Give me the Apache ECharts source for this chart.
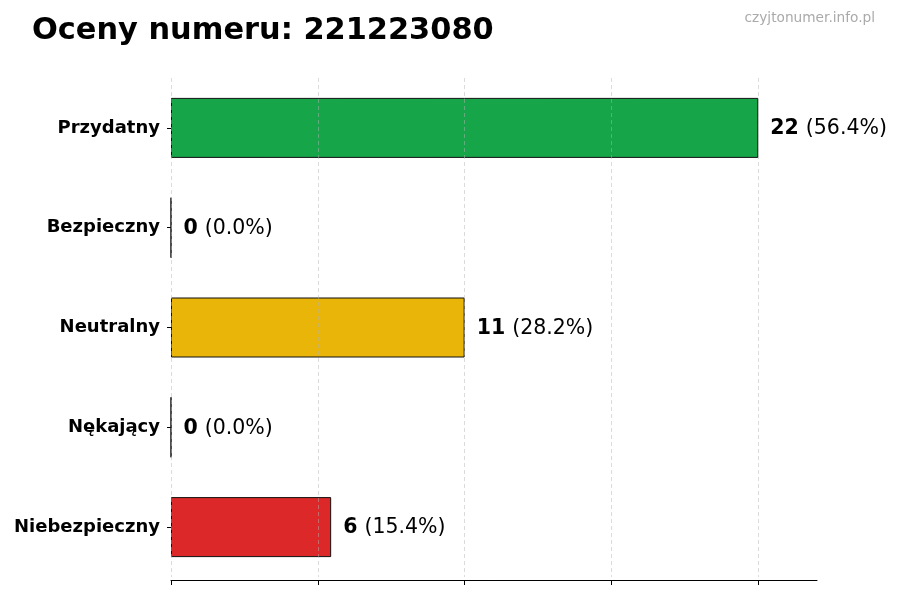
<!DOCTYPE html>
<html>
<head>
<meta charset="utf-8">
<script src="https://cdn.jsdelivr.net/npm/echarts@6/dist/echarts.min.js"></script>
<style>html,body{margin:0;padding:0;background:#fff}#c{width:900px;height:600px}</style>
</head>
<body>
<div id="c"></div>
<script>
const categories = ['Przydatny', 'Bezpieczny', 'Neutralny', 'Nękający', 'Niebezpieczny'];
const values = [22, 0, 11, 0, 6];
const barColors = ['#17a54a', '#17a54a', '#e9b509', '#e9b509', '#dc2828'];
const xTicks = [0, 5.5, 11, 16.5, 22];
const titleText = 'Oceny numeru: 221223080';
const watermark = 'czyjtonumer.info.pl';

const total = values.reduce((a, b) => a + b, 0);
const FONT = 'DejaVu Sans';
const grid = 'rgba(180,180,180,0.6)';
const chart = echarts.init(document.getElementById('c'));
chart.setOption({
  animation: false,
  textStyle: { fontFamily: FONT },
  title: [
    { text: titleText, left: 27, top: 11, textStyle: { fontFamily: FONT, fontSize: 30.4, fontWeight: 'bold', color: '#000' } },
    { text: watermark, right: 20, top: 6, textStyle: { fontFamily: FONT, fontSize: 13.7, fontWeight: 'normal', color: '#aaaaaa' } }
  ],
  grid: { left: 171, right: 83, top: 78, bottom: 23, containLabel: false },
  xAxis: {
    type: 'value', min: 0, max: 24.2, interval: 5.5, z: 10, offset: 3,
    axisLabel: { show: false },
    axisLine: { show: true, lineStyle: { color: '#000', width: 1 } },
    axisTick: { show: true, customValues: xTicks, length: 5, lineStyle: { color: '#000' } },
    splitLine: { show: true, lineStyle: { type: [4, 3], width: 0.8, color: [grid, grid, grid, grid, grid, 'rgba(0,0,0,0)'] } }
  },
  yAxis: {
    type: 'category', data: categories, inverse: true,
    axisLine: { show: false },
    axisTick: { show: true, alignWithLabel: true, length: 4, lineStyle: { color: '#000' } },
    axisLabel: { margin: 11, fontFamily: FONT, fontSize: 18, fontWeight: 'bold', color: '#000' }
  },
  series: [{
    type: 'bar',
    barWidth: 60,
    data: values.map((v, i) => ({ value: v, itemStyle: { color: barColors[i] } })),
    itemStyle: { borderColor: '#111', borderWidth: 1 },
    label: {
      show: true, position: 'right', distance: 12, offset: [0, 1],
      formatter: p => '{b|' + p.value + '}{s| }{n|(' + (p.value / total * 100).toFixed(1) + '%)}',
      rich: {
        b: { fontFamily: FONT, fontSize: 20.5, fontWeight: 'bold', color: '#000' },
        s: { fontFamily: FONT, fontSize: 20.5, width: 7 },
        n: { fontFamily: FONT, fontSize: 20.5, color: '#000' }
      }
    }
  }]
});
</script>
</body>
</html>
